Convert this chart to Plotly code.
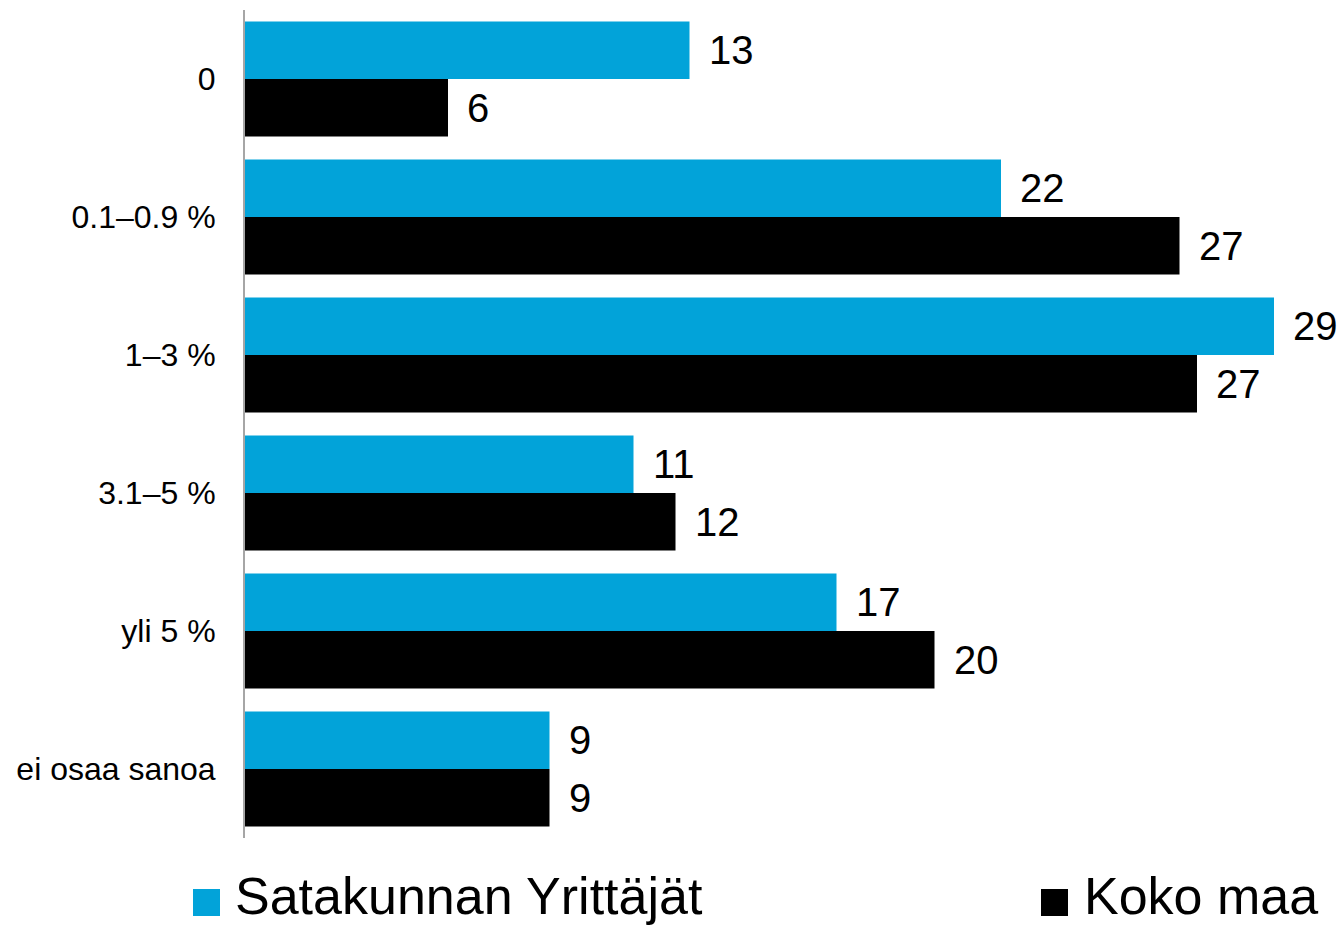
import plotly.graph_objects as go

categories = ["0", "0.1–0.9 %", "1–3 %", "3.1–5 %", "yli 5 %", "ei osaa sanoa"]
series_names = ["Satakunnan Yrittäjät", "Koko maa"]
satakunta = [12.7, 21.6, 29.4, 11.1, 16.9, 8.7]
koko_maa = [5.8, 26.7, 27.2, 12.3, 19.7, 8.7]
colors = ["#02A3D9", "#000000"]

FONT = "Liberation Sans, Arial, sans-serif"
W, H = 1340, 927
L, R, T, B = 245, 0, 10, 89
pw, ph = W - L - R, H - T - B

fig = go.Figure()
for name, vals, col in zip(series_names, [satakunta, koko_maa], colors):
    fig.add_trace(go.Bar(
        y=categories, x=vals, name=name, orientation="h",
        marker=dict(color=col, line=dict(width=0)), showlegend=False,
        hoverinfo="x+y",
    ))

# value labels
band = ph / len(categories)
bar_h = band * (1 - 1 / 6) / 2
for vals, shift in [(satakunta, bar_h / 2), (koko_maa, -bar_h / 2)]:
    for c, v in zip(categories, vals):
        fig.add_annotation(
            x=v, y=c, xref="x", yref="y", text=f"{v:.0f}", showarrow=False,
            xanchor="left", yanchor="middle", xshift=17, yshift=shift,
            font=dict(family=FONT, size=40, color="#000000"),
        )

# legend drawn manually (big squares)
def px_x(p):
    return (p - L) / pw

def px_y(p):
    return (H - B - p) / ph

legend_items = [(193, 233), (1041, 1082)]
for (sq_x, tx_x), name, col in zip(legend_items, series_names, colors):
    fig.add_shape(type="rect", xref="paper", yref="paper",
                  x0=px_x(sq_x), x1=px_x(sq_x + 27), y0=px_y(916), y1=px_y(889),
                  fillcolor=col, line=dict(width=0))
    fig.add_annotation(x=px_x(tx_x), y=px_y(927), xref="paper", yref="paper",
                       text=name, showarrow=False, xanchor="left", yanchor="bottom",
                       font=dict(family=FONT, size=52, color="#000000"))

fig.update_layout(
    width=W, height=H,
    margin=dict(l=L, r=R, t=T, b=B, pad=0),
    barmode="group", bargap=1 / 6, bargroupgap=0,
    plot_bgcolor="white", paper_bgcolor="white",
    font=dict(family=FONT, color="#000000"),
    showlegend=False,
)
fig.update_xaxes(range=[0, pw / 35.0], visible=False, showgrid=False, zeroline=False)
fig.update_yaxes(
    autorange="reversed", showline=True, linecolor="#A6A6A6", linewidth=2,
    ticks="", showgrid=False, zeroline=False,
    tickfont=dict(family=FONT, size=32, color="#000000"),
    ticklabelstandoff=21,
)

fig.write_html(
    "out.html",
    config={"displayModeBar": False},
    post_script="document.body.style.margin='0';document.body.style.overflow='hidden';",
)
